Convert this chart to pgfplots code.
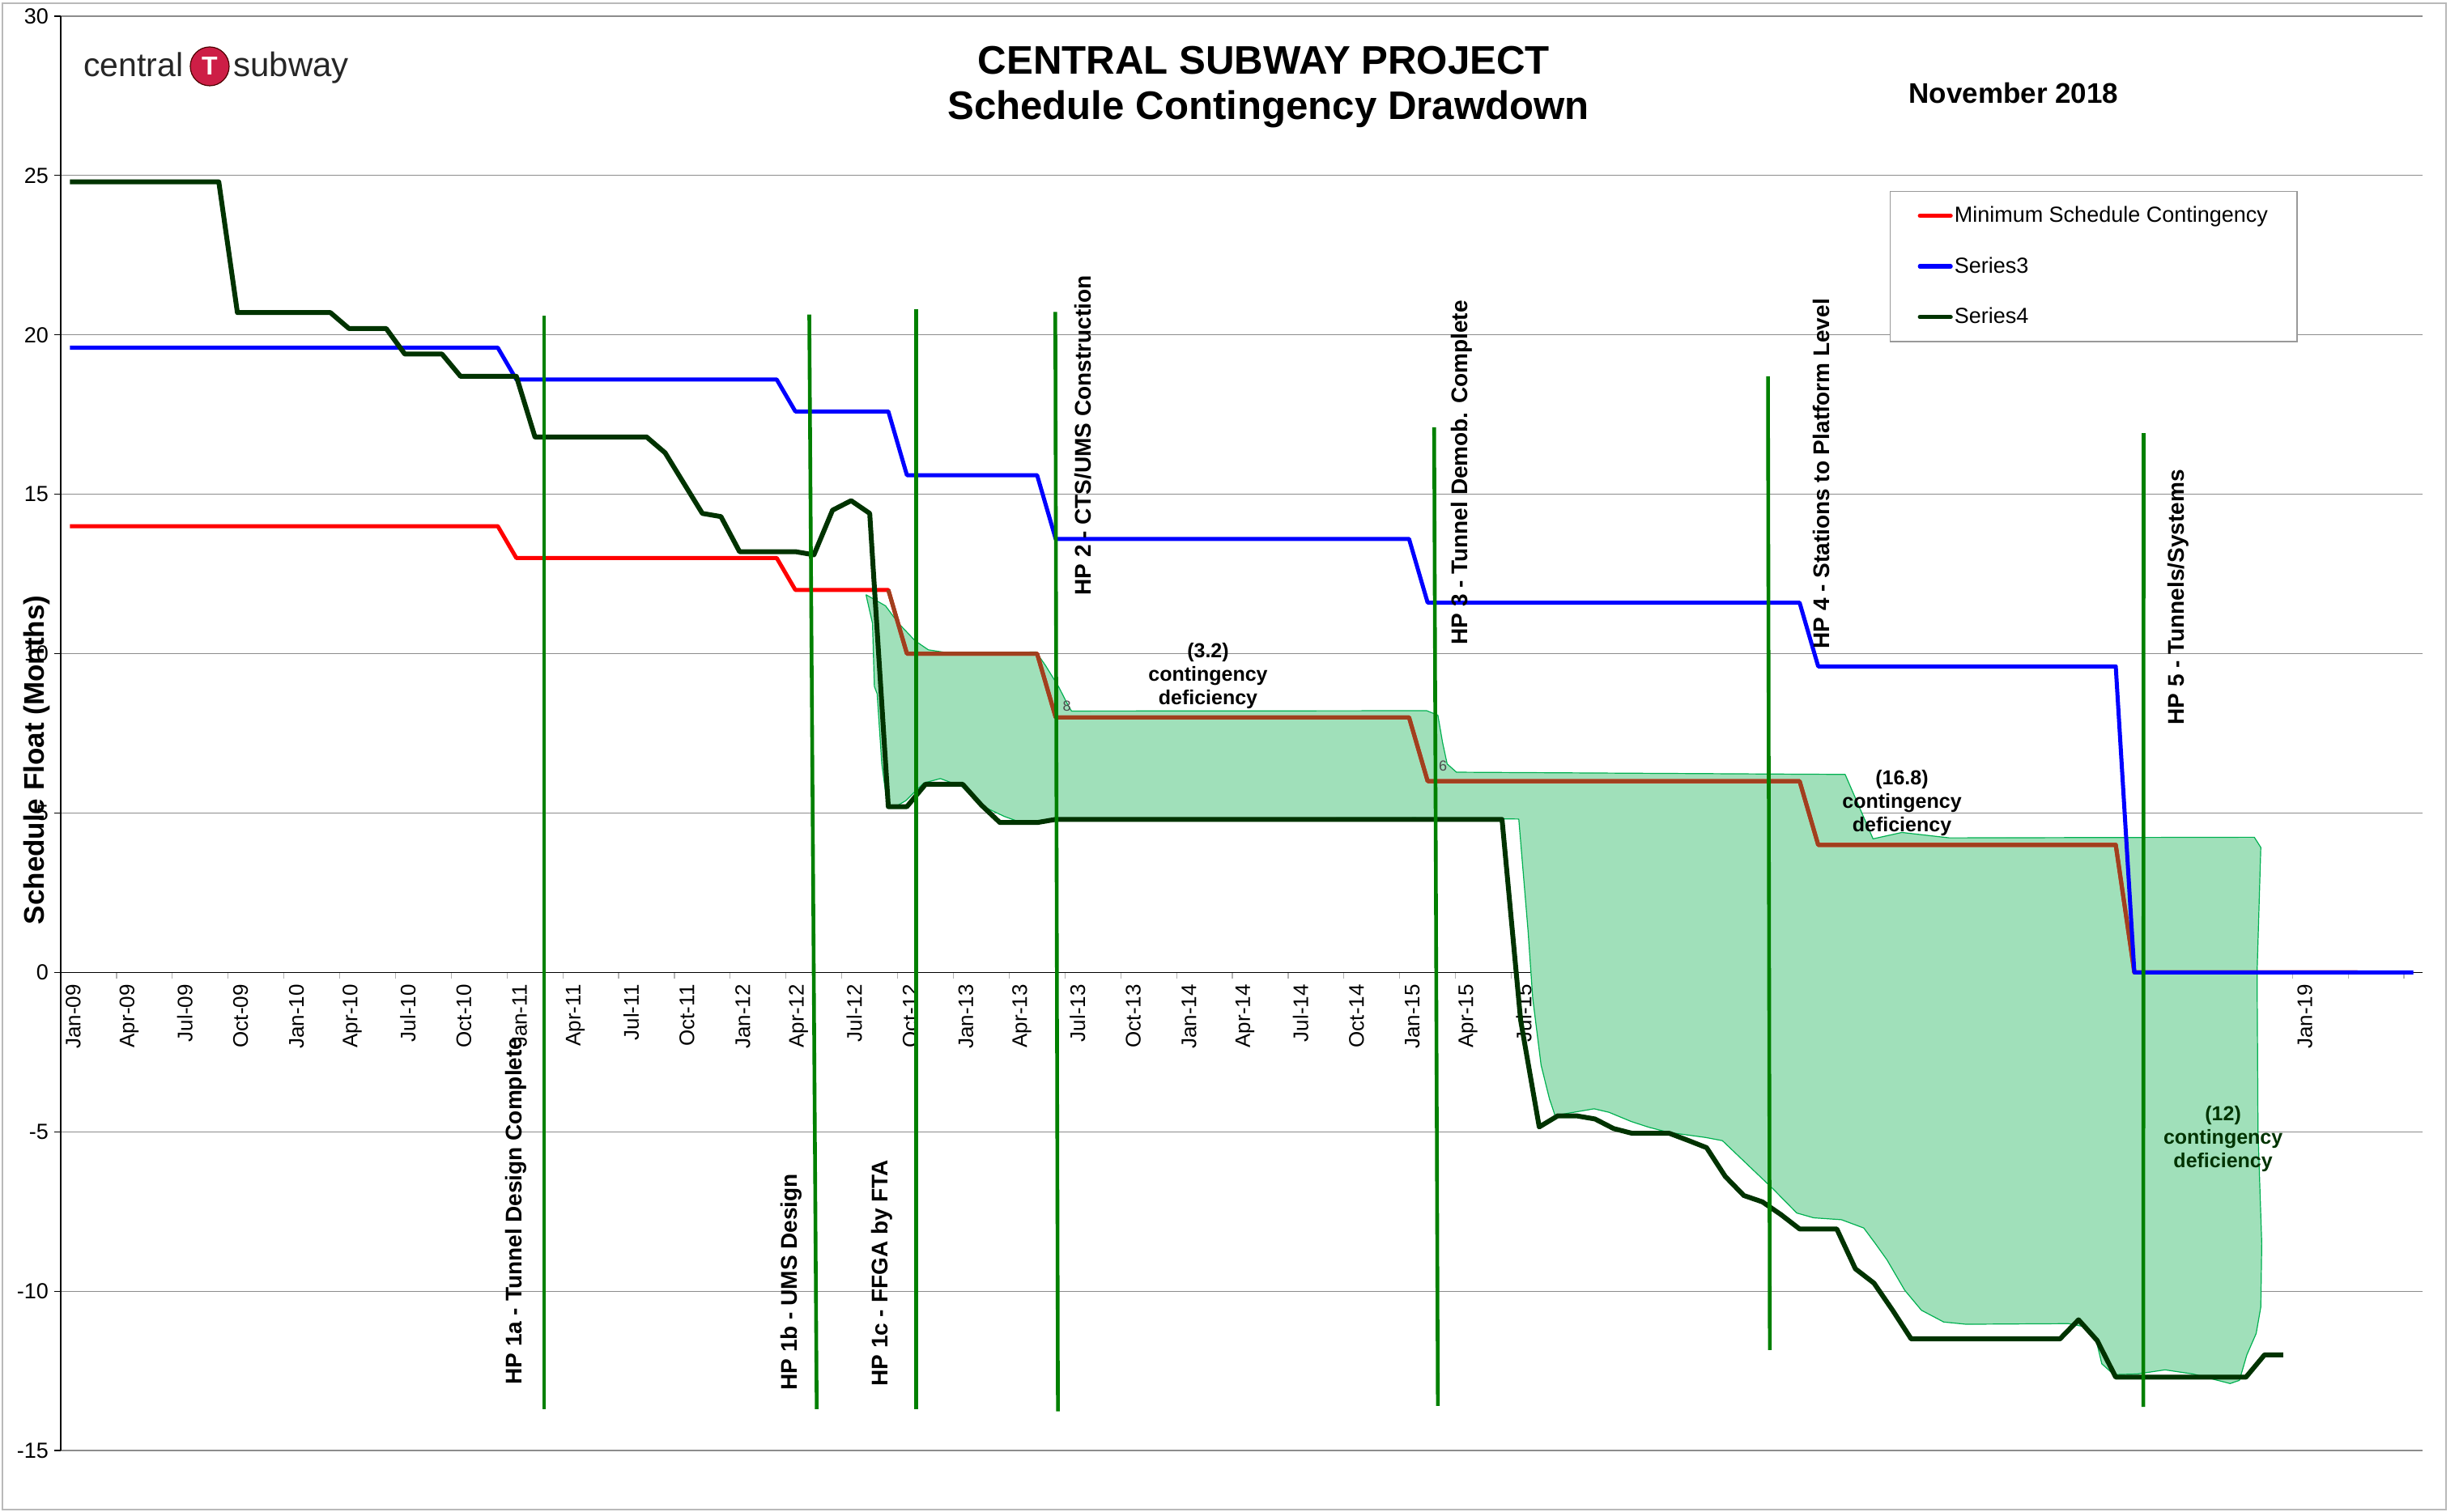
\documentclass[border=0pt]{standalone}
\usepackage{pgfplots}
\pgfplotsset{compat=1.18}
\usepackage{fontspec}
\setmainfont{Liberation Sans}
\definecolor{sred}{RGB}{255,0,0}
\definecolor{sblue}{RGB}{0,0,255}
\definecolor{sdark}{RGB}{0,51,0}
\definecolor{sbrown}{RGB}{160,64,30}
\definecolor{vgreen}{RGB}{0,128,0}
\definecolor{shapefill}{RGB}{160,224,186}
\definecolor{shapeedge}{RGB}{0,176,80}
\definecolor{gridgray}{RGB}{140,140,140}
\definecolor{logored}{RGB}{205,30,70}
\begin{document}
\begin{tikzpicture}
\draw[gray!55, line width=0.7pt] (-36pt,-36.5pt) rectangle (1473pt,894pt);
\begin{axis}[
  at={(0pt,0pt)}, anchor=south west,
  scale only axis, width=1458.5pt, height=886pt,
  set layers,
  xmin=-0.5, xmax=126.5, ymin=-15, ymax=30,
  axis x line*=middle, axis y line*=left,
  axis line style={black, line width=0.6pt},
  /pgf/number format/assume math mode=true,
  ytick={-15,-10,...,30},
  ymajorgrids, grid style={gridgray, line width=0.6pt},
  xtick={0,3,...,120},
  xticklabels={Jan-09,Apr-09,Jul-09,Oct-09,Jan-10,Apr-10,Jul-10,Oct-10,Jan-11,Apr-11,Jul-11,Oct-11,Jan-12,Apr-12,Jul-12,Oct-12,Jan-13,Apr-13,Jul-13,Oct-13,Jan-14,Apr-14,Jul-14,Oct-14,Jan-15,Apr-15,Jul-15,Oct-15,Jan-16,Apr-16,Jul-16,Oct-16,Jan-17,Apr-17,Jul-17,Oct-17,Jan-18,Apr-18,Jul-18,Oct-18,Jan-19},
  minor xtick={-0.5,2.5,...,125.5},
  every major x tick/.append style={draw=none},
  every minor x tick/.append style={gray!60, line width=0.6pt},
  minor tick length=4pt, major tick length=4pt,
  tick align=outside,
  ytick style={black, line width=0.6pt},
  xticklabel style={rotate=90, anchor=east, font=\fontsize{13}{15}\selectfont, yshift=-2pt},
  yticklabel style={font=\fontsize{13.5}{15}\selectfont},
  legend style={at={(0.7744,0.8783)}, anchor=north west, draw=gray!80, line width=0.6pt,
    font=\fontsize{13.5}{16}\selectfont, inner xsep=17pt, inner ysep=8.5pt, row sep=18pt,
    nodes={inner sep=1pt}},
  legend cell align=left,
  legend image code/.code={\draw[#1, line width=2.6pt, line cap=round] (0pt,0pt) -- (19pt,0pt);},
]
% deficiency shape
\addplot[fill=shapefill, draw=shapeedge, line width=0.6pt, line join=round, forget plot] coordinates {
(42.8,11.85) (43.85,11.5) (44.55,10.95) (45.45,10.4) (46.15,10.12) (47.05,10.04) (51.95,10.05)
(52.45,9.63) (53.15,8.97) (53.65,8.4) (53.85,8.2) (72.95,8.21) (73.55,8.07) (73.8,7.22)
(74.05,6.54) (74.55,6.28) (95.45,6.21) (96.95,4.19) (98.5,4.39) (101.05,4.22) (117.45,4.24)
(117.8,3.92) (117.6,0) (117.65,-5) (117.85,-8.5) (117.8,-10.5) (117.55,-11.33) (117.05,-12.0)
(116.65,-12.8) (116.15,-12.9) (114.15,-12.6) (112.65,-12.47) (111.15,-12.6) (109.9,-12.62)
(109.25,-12.28) (108.95,-11.55) (108.35,-11.12) (107.45,-11.02) (101.95,-11.04) (100.75,-10.97)
(99.55,-10.6) (98.65,-9.97) (97.7,-9.02) (97.05,-8.49) (96.45,-8.02) (95.25,-7.76) (93.75,-7.7)
(92.85,-7.55) (91.6,-6.81) (88.85,-5.28) (87.95,-5.18) (85.95,-5.02) (84.9,-4.86) (83.95,-4.68)
(82.75,-4.39) (81.95,-4.28) (79.85,-4.49) (79.55,-3.97) (79.1,-2.91) (78.65,-0.81) (78.4,1.3)
(77.9,4.81) (72.35,4.85) (53.0,4.82) (51.15,4.7) (50.25,4.89) (49.05,5.22) (47.95,5.83)
(46.8,6.08) (45.9,5.94) (44.95,5.39) (44.3,5.17) (43.95,5.22) (43.65,6.54) (43.4,8.74)
(43.25,8.97) (43.15,10.95) (42.8,11.85)
};
% Minimum Schedule Contingency
\addplot[sred, line width=2.5pt, line join=round] coordinates {
(0,14) (23,14) (24,13) (38,13) (39,12) (44,12) (45,10) (52,10) (53,8) (72,8) (73,6) (93,6)
(94,4) (110,4) (111,0) (123,0)
};
\addlegendentry{Minimum Schedule Contingency}
% brown overlay
\addplot[sbrown, line width=2.5pt, line join=round, forget plot] coordinates {
(44,12) (45,10) (52,10) (53,8) (72,8) (73,6) (93,6) (94,4) (110,4) (111,0) (123,0)
};
% Series3
\addplot[sblue, line width=2.5pt, line join=round] coordinates {
(0,19.6) (23,19.6) (24,18.6) (38,18.6) (39,17.6) (44,17.6) (45,15.6) (52,15.6) (53,13.6)
(72,13.6) (73,11.6) (93,11.6) (94,9.6) (110,9.6) (111,0) (126,0)
};
\addlegendentry{Series3}
% Series4
\addplot[sdark, line width=3pt, line join=round] coordinates {
(0,24.8) (8,24.8) (9,20.7) (14,20.7) (15,20.2) (17,20.2) (18,19.4) (20,19.4) (21,18.7) (24,18.7)
(25,16.8) (31,16.8) (32,16.3) (33,15.35) (34,14.4) (35,14.3) (36,13.2) (39,13.2) (40,13.1)
(41,14.5) (42,14.8) (43,14.4) (44,5.2) (45,5.2) (46,5.9) (48,5.9) (49,5.25) (50,4.7) (52,4.7)
(53,4.8) (77,4.8) (78,-1.5) (79,-4.85) (80,-4.5) (81,-4.5) (82,-4.6) (83,-4.9) (84,-5.05)
(86,-5.05) (87,-5.27) (88,-5.5) (89,-6.4) (90,-7.0) (91,-7.2) (92,-7.6) (93,-8.05) (95,-8.05)
(96,-9.3) (97,-9.75) (98,-10.6) (99,-11.5) (107,-11.5) (108,-10.9) (109,-11.55) (110,-12.7)
(117,-12.7) (118,-12.0) (119,-12.0)
};
\addlegendentry{Series4}
% milestone lines
\addplot[vgreen, line width=2.3pt, forget plot] coordinates {(25.5,20.6) (25.5,-13.7)};
\addplot[vgreen, line width=2.3pt, forget plot] coordinates {(39.75,20.64) (40.15,-13.7)};
\addplot[vgreen, line width=2.3pt, forget plot] coordinates {(45.5,20.8) (45.5,-13.7)};
\addplot[vgreen, line width=2.3pt, forget plot] coordinates {(52.98,20.72) (53.12,-13.77)};
\addplot[vgreen, line width=2.3pt, forget plot] coordinates {(73.35,17.1) (73.55,-13.6)};
\addplot[vgreen, line width=2.3pt, forget plot] coordinates {(91.3,18.7) (91.4,-11.85)};
\addplot[vgreen, line width=2.3pt, forget plot] coordinates {(111.5,16.92) (111.48,-13.63)};
\end{axis}
% titles
\node[anchor=base, font=\fontsize{24.6}{28}\selectfont\bfseries, inner sep=0pt] at (742.9pt,850pt) {CENTRAL SUBWAY PROJECT};
\node[anchor=base, font=\fontsize{24.6}{28}\selectfont\bfseries, inner sep=0pt] at (745.8pt,822pt) {Schedule Contingency Drawdown};
\node[anchor=base, font=\fontsize{17.5}{20}\selectfont\bfseries, inner sep=0pt] at (1206pt,832pt) {November 2018};
\node[rotate=90, font=\fontsize{17.5}{20}\selectfont\bfseries, inner sep=0pt] at (-15pt,426.5pt) {Schedule Float (Months)};
% logo
\node[anchor=base west, font=\fontsize{20.5}{24}\selectfont, text=black!85, inner sep=0pt] at (14pt,848.5pt) {central};
\fill[logored, draw=black!70!red, line width=0.6pt] (92pt,855pt) circle (12pt);
\node[font=\fontsize{16}{18}\selectfont\bfseries, text=white, inner sep=0pt] at (92pt,855pt) {T};
\node[anchor=base west, font=\fontsize{21}{24}\selectfont, text=black!85, inner sep=0pt] at (106.5pt,848.5pt) {subway};
% milestone labels
\begin{scope}[every node/.style={rotate=90, anchor=west, font=\fontsize{14}{16}\selectfont\bfseries, inner sep=0pt}]
\node at (281pt,40.5pt) {HP 1a - Tunnel Design Complete};
\node at (451pt,37pt) {HP 1b - UMS Design};
\node at (507pt,39.5pt) {HP 1c - FFGA by FTA};
\node at (631.5pt,528pt) {HP 2 - CTS/UMS Construction};
\node at (865pt,497.5pt) {HP 3 - Tunnel Demob. Complete};
\node at (1087pt,495pt) {HP 4 - Stations to Platform Level};
\node at (1307.5pt,448pt) {HP 5 - Tunnels/Systems};
\end{scope}
% deficiency notes
\begin{scope}[every node/.style={align=center, font=\fontsize{12.5}{14.5}\selectfont\bfseries, inner sep=0pt}]
\node at (708.5pt,478.5pt) {(3.2)\\contingency\\deficiency};
\node at (1137pt,400pt) {(16.8)\\contingency\\deficiency};
\node[text=black!80!green] at (1335.3pt,192.5pt) {(12)\\contingency\\deficiency};
\end{scope}
\node[font=\fontsize{9}{10}\selectfont, text=black!70, inner sep=0pt] at (621.25pt,460pt) {8};
\node[font=\fontsize{9}{10}\selectfont, text=black!70, inner sep=0pt] at (853.5pt,423pt) {6};
\pgfresetboundingbox
\path[use as bounding box] (-37.5pt,-38pt) rectangle (1481pt,896pt);
\end{tikzpicture}
\end{document}
